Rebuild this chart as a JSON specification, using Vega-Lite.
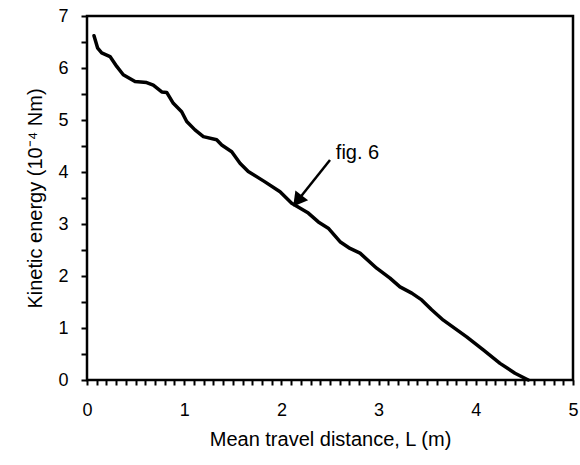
{
  "$schema": "https://vega.github.io/schema/vega-lite/v6.json",
  "width": 486,
  "height": 364,
  "autosize": "none",
  "padding": {"left": 87, "top": 16, "right": 7, "bottom": 85},
  "background": "white",
  "config": {
    "view": {"stroke": "black", "strokeWidth": 2.5},
    "font": "Liberation Sans",
    "axis": {"grid": false, "ticks": true, "domain": false, "tickColor": "black", "tickWidth": 2, "tickOpacity": 1, "labelColor": "black", "titleColor": "black", "labelFont": "Liberation Sans", "titleFont": "Liberation Sans", "titleFontWeight": "normal"}
  },
  "datasets": {
    "curve": [
      {"L": 0.072, "E": 6.62}, {"L": 0.110, "E": 6.38}, {"L": 0.151, "E": 6.29}, {"L": 0.237, "E": 6.22},
      {"L": 0.306, "E": 6.03}, {"L": 0.373, "E": 5.87}, {"L": 0.494, "E": 5.74}, {"L": 0.614, "E": 5.72},
      {"L": 0.682, "E": 5.67}, {"L": 0.769, "E": 5.54}, {"L": 0.820, "E": 5.53}, {"L": 0.888, "E": 5.32},
      {"L": 0.974, "E": 5.16}, {"L": 1.026, "E": 4.97}, {"L": 1.111, "E": 4.81}, {"L": 1.197, "E": 4.68},
      {"L": 1.334, "E": 4.62}, {"L": 1.386, "E": 4.52}, {"L": 1.489, "E": 4.39}, {"L": 1.574, "E": 4.17},
      {"L": 1.659, "E": 4.01}, {"L": 1.831, "E": 3.81}, {"L": 1.986, "E": 3.62}, {"L": 2.106, "E": 3.40},
      {"L": 2.277, "E": 3.21}, {"L": 2.380, "E": 3.04}, {"L": 2.482, "E": 2.92}, {"L": 2.603, "E": 2.66},
      {"L": 2.706, "E": 2.53}, {"L": 2.809, "E": 2.44}, {"L": 2.980, "E": 2.15}, {"L": 3.117, "E": 1.96},
      {"L": 3.220, "E": 1.79}, {"L": 3.341, "E": 1.67}, {"L": 3.443, "E": 1.54}, {"L": 3.546, "E": 1.35},
      {"L": 3.666, "E": 1.15}, {"L": 3.906, "E": 0.83}, {"L": 4.077, "E": 0.58}, {"L": 4.249, "E": 0.32},
      {"L": 4.403, "E": 0.13}, {"L": 4.54, "E": 0.0}
    ],
    "arrow": [{"x1": 2.50, "y1": 4.23, "x2": 2.18, "y2": 3.48}],
    "head": [{"x": 2.18, "y": 3.48}],
    "label": [{"x": 2.56, "y": 4.37, "t": "fig. 6"}]
  },
  "resolve": {"axis": {"x": "independent", "y": "independent"}},
  "layer": [
    {
      "data": {"name": "curve"},
      "mark": {"type": "line", "color": "black", "strokeWidth": 3.5, "strokeJoin": "round", "strokeCap": "round"},
      "encoding": {
        "x": {"field": "L", "type": "quantitative", "scale": {"domain": [0, 5], "nice": false, "zero": false},
          "axis": {
            "orient": "bottom",
            "title": "Mean travel distance, L (m)",
            "titleFontSize": 20, "titlePadding": 10,
            "values": [0, 1, 2, 3, 4, 5],
            "format": "d",
            "ticks": false, "tickSize": 0,
            "labelFontSize": 18, "labelPadding": 21, "labelFlush": false, "labelBound": false, "labelOverlap": false
          }},
        "y": {"field": "E", "type": "quantitative", "scale": {"domain": [0, 7], "nice": false},
          "axis": {
            "orient": "left",
            "title": "Kinetic energy (10⁻⁴ Nm)",
            "titleFontSize": 20, "titlePadding": 12,
            "values": [0, 1, 2, 3, 4, 5, 6, 7],
            "format": "d",
            "ticks": false, "tickSize": 0,
            "labelFontSize": 18, "labelPadding": 19, "labelFlush": false, "labelBound": false, "labelOverlap": false
          }}
      }
    },
    {
      "data": {"name": "arrow"},
      "mark": {"type": "rule", "color": "black", "strokeWidth": 2.5},
      "encoding": {
        "x": {"field": "x1", "type": "quantitative",
          "axis": {"orient": "bottom", "title": null, "labels": false, "tickSize": 5,
            "values": [0,0.1,0.2,0.3,0.4,0.5,0.6,0.7,0.8,0.9,1,1.1,1.2,1.3,1.4,1.5,1.6,1.7,1.8,1.9,2,2.1,2.2,2.3,2.4,2.5,2.6,2.7,2.8,2.9,3,3.1,3.2,3.3,3.4,3.5,3.6,3.7,3.8,3.9,4,4.1,4.2,4.3,4.4,4.5,4.6,4.7,4.8,4.9,5],
            "encode": {"ticks": {"update": {"y2": {"signal": "abs(datum.value - round(datum.value)) < 0.001 ? 9 : 5"}}}}}},
        "y": {"field": "y1", "type": "quantitative",
          "axis": {"orient": "left", "title": null, "labels": false, "tickSize": 6,
            "values": [0, 0.5, 1, 1.5, 2, 2.5, 3, 3.5, 4, 4.5, 5, 5.5, 6, 6.5, 7],
            "encode": {"ticks": {"update": {"x2": {"signal": "abs(datum.value - round(datum.value)) < 0.001 ? -12 : -6"}}}}}},
        "x2": {"field": "x2"},
        "y2": {"field": "y2"}
      }
    },
    {
      "data": {"name": "head"},
      "mark": {"type": "point", "shape": "triangle", "filled": true, "color": "black", "opacity": 1, "size": 260, "angle": 218},
      "encoding": {
        "x": {"field": "x", "type": "quantitative", "axis": null},
        "y": {"field": "y", "type": "quantitative", "axis": null}
      }
    },
    {
      "data": {"name": "label"},
      "mark": {"type": "text", "align": "left", "baseline": "middle", "fontSize": 20, "color": "black", "font": "Liberation Sans"},
      "encoding": {
        "x": {"field": "x", "type": "quantitative", "axis": null},
        "y": {"field": "y", "type": "quantitative", "axis": null},
        "text": {"field": "t"}
      }
    }
  ]
}
